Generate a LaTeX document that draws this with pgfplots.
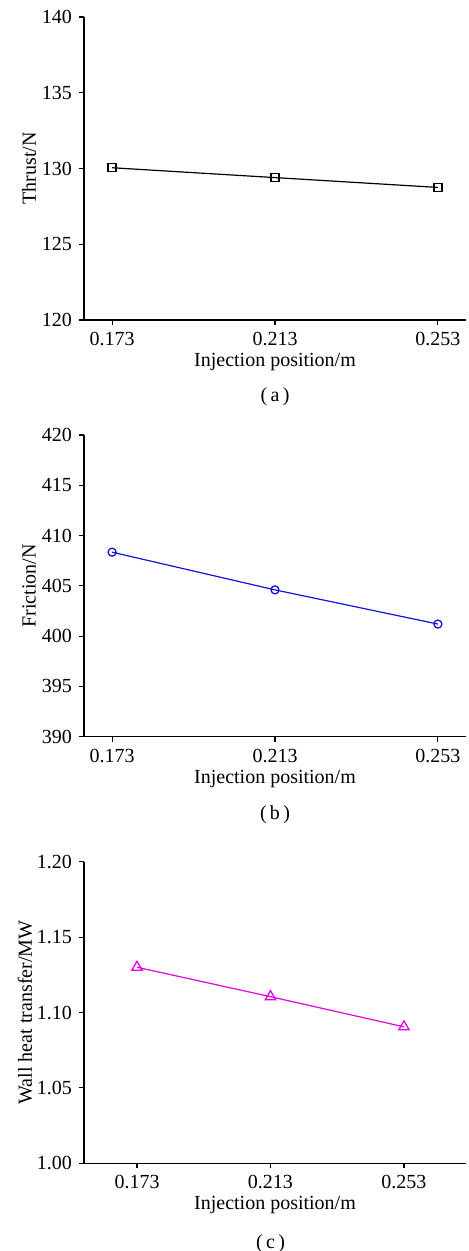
\documentclass[border=0pt]{standalone}
\usepackage{pgfplots}
\pgfplotsset{compat=1.18}
\usepackage{fontspec}
\setmainfont{Liberation Serif}
\definecolor{myblue}{RGB}{20,20,215}
\definecolor{mymag}{RGB}{225,0,225}
\pgfplotsset{
  panel/.style={
    scale only axis,
    width=191pt,
    anchor=south west,
    axis x line*=bottom,
    axis y line*=left,
    axis line style={line width=0.65pt},
    tick align=outside,
    major tick length=2.5pt,
    tick style={line width=0.55pt, black},
    xtick={0.173,0.213,0.253},
    xticklabels={0.173,0.213,0.253},
    /pgf/number format/assume math mode=true,
    font=\fontsize{10}{12}\selectfont,
    tick label style={font=\fontsize{10}{12}\selectfont},
    xlabel={Injection position/m},
    every axis x label/.style={at={([yshift=-21pt]axis description cs:0.5,0)}, anchor=center},
    every axis y label/.style={at={([xshift=-27.5pt]axis description cs:0,0.5)}, anchor=center, rotate=90},
    clip=false,
  }
}
\begin{document}
\begin{tikzpicture}
\useasboundingbox (0pt,0pt) rectangle (234pt,-625.5pt);
% (a)
\begin{axis}[panel,
  at={(42pt,-160pt)}, height=151.5pt,
  xmin=0.1661, xmax=0.2599,
  ymin=120, ymax=140, ytick={120,125,130,135,140},
  ylabel={Thrust/N}]
\addplot[black, line width=0.6pt, mark=square, mark size=2pt, mark options={solid, fill=white, line width=0.65pt}]
  coordinates {(0.173,130.05) (0.213,129.4) (0.253,128.75)};
\node at ([yshift=-38.5pt]axis cs:0.213,120) {(\,a\,)};
\end{axis}
% (b)
\begin{axis}[panel,
  at={(42pt,-368.35pt)}, height=150.85pt,
  xmin=0.1661, xmax=0.2599,
  ymin=390, ymax=420, ytick={390,395,400,405,410,415,420},
  ylabel={Friction/N}]
\addplot[myblue, line width=0.6pt, mark=o, mark size=2pt, mark options={solid, fill=white, line width=0.65pt}]
  coordinates {(0.173,408.35) (0.213,404.6) (0.253,401.2)};
\node at ([yshift=-39pt]axis cs:0.213,390) {(\,b\,)};
\end{axis}
% (c)
\begin{axis}[panel,
  at={(42pt,-581.65pt)}, height=150.8pt,
  xmin=0.1571, xmax=0.2716,
  ymin=1.0, ymax=1.2, ytick={1.00,1.05,1.10,1.15,1.20},
  yticklabel style={/pgf/number format/.cd, fixed, fixed zerofill, precision=2},
  every axis y label/.style={at={([xshift=-29.5pt]axis description cs:0,0.5)}, anchor=center, rotate=90},
  ylabel={Wall heat transfer/MW}]
\addplot[mymag, line width=0.6pt, mark=triangle, mark size=3pt, mark options={solid, fill=white, line width=0.65pt}]
  coordinates {(0.173,1.130) (0.213,1.1105) (0.253,1.0905)};
\node at ([yshift=-40pt]axis cs:0.213,1.0) {(\,c\,)};
\end{axis}
\end{tikzpicture}
\end{document}
